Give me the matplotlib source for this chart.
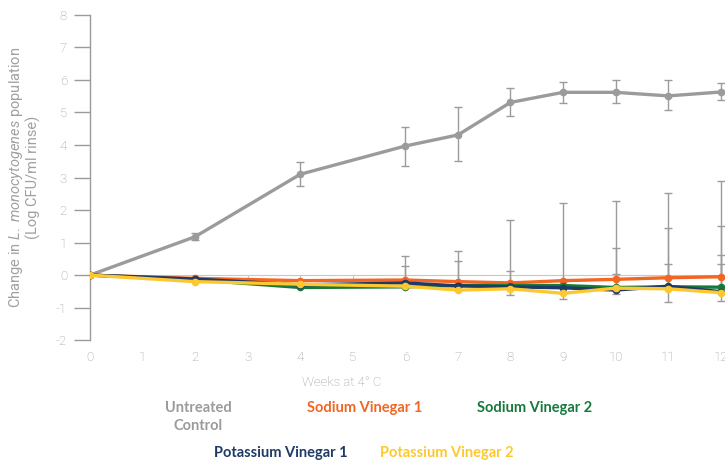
import numpy as np
import matplotlib.pyplot as plt

plt.rcParams['font.family'] = ['Roboto', 'DejaVu Sans']
plt.rcParams['axes.unicode_minus'] = False
plt.rcParams['mathtext.fontset'] = 'custom'
plt.rcParams['mathtext.it'] = 'Roboto:italic'
plt.rcParams['mathtext.rm'] = 'Roboto'

weeks = np.array([0, 2, 4, 6, 7, 8, 9, 10, 11, 12])

# mean change in log CFU per treatment
untreated = np.array([0, 1.18, 3.10, 3.97, 4.31, 5.31, 5.62, 5.62, 5.51, 5.63])
sodium1 = np.array([0, -0.10, -0.17, -0.15, -0.20, -0.24, -0.17, -0.13, -0.08, -0.05])
sodium2 = np.array([0, -0.14, -0.38, -0.36, -0.32, -0.32, -0.32, -0.38, -0.36, -0.37])
potassium1 = np.array([0, -0.12, -0.30, -0.24, -0.33, -0.36, -0.39, -0.46, -0.34, -0.51])
potassium2 = np.array([0, -0.20, -0.28, -0.34, -0.46, -0.42, -0.56, -0.40, -0.42, -0.54])

# error bar extents (below, above)
untreated_lo = np.array([0, 0.10, 0.36, 0.62, 0.81, 0.43, 0.34, 0.34, 0.44, 0.25])
untreated_hi = np.array([0, 0.10, 0.38, 0.57, 0.85, 0.45, 0.33, 0.37, 0.48, 0.27])
sodium1_hi = np.array([0, 0, 0, 0.75, 0.93, 1.95, 2.39, 2.42, 2.61, 2.95])
sodium2_hi = np.array([0, 0, 0, 0.63, 0.74, 0.46, 0, 1.20, 1.82, 1.89])
potassium1_hi = np.array([0, 0, 0, 0, 0, 0, 0, 0.48, 0.69, 1.13])
potassium2_hi = np.array([0, 0, 0, 0, 0, 0, 0, 0, 0, 0.87])
potassium2_lo = np.array([0, 0, 0, 0, 0, 0.20, 0.18, 0.18, 0.42, 0.25])

labels = ['Untreated\nControl', 'Sodium Vinegar 1', 'Sodium Vinegar 2',
          'Potassium Vinegar 1', 'Potassium Vinegar 2']
colors = ['#9b9b9d', '#f26522', '#17793b', '#1e3a66', '#fdc82f']

grey = '#9b9b9b'
txt = '#a0a0a0'
fig = plt.figure(figsize=(7.25, 4.66), dpi=100)
ax = fig.add_axes([0.124, 0.270, 0.876, 0.698])

ekw = dict(fmt='none', ecolor=grey, elinewidth=1.0, capsize=3, capthick=1.0, zorder=2)
ax.errorbar(weeks[1:], untreated[1:], yerr=[untreated_lo[1:], untreated_hi[1:]], **ekw)
for vals, hi in [(sodium1, sodium1_hi), (sodium2, sodium2_hi),
                 (potassium1, potassium1_hi), (potassium2, potassium2_hi)]:
    m = hi > 0
    ax.errorbar(weeks[m], vals[m], yerr=[np.zeros(m.sum()), hi[m]], **ekw)
m = potassium2_lo > 0
ax.errorbar(weeks[m], potassium2[m], yerr=[potassium2_lo[m], np.zeros(m.sum())], **ekw)

series = [untreated, sodium1, sodium2, potassium1, potassium2]
for i, (vals, c) in enumerate(zip(series, colors)):
    ax.plot(weeks, vals, '-o', color=c, lw=2.4, ms=4.5, zorder=3 + i)

ax.set_xlim(0, 12.08)
ax.set_ylim(-2, 8)
for s in ['top', 'right', 'bottom']:
    ax.spines[s].set_visible(False)
ax.spines['left'].set_color(grey)
ax.spines['left'].set_linewidth(1.0)

ax.set_yticks(range(-2, 9))
ax.tick_params(axis='y', direction='out', length=11.5, width=1.0, color=grey,
               labelcolor='#999999', labelsize=9.5, pad=5)
ax.set_xticks(range(0, 13))
ax.tick_params(axis='x', length=0, labelcolor='#999999', labelsize=9.5, pad=8)
for t in ax.get_xticklabels() + ax.get_yticklabels():
    t.set_fontweight('light')

# zero line with small ticks
zx = ax.secondary_xaxis(0.2)
zx.set_xticks(range(0, 13))
zx.tick_params(direction='out', length=3, width=0.8, color='#c8c8c8', labelbottom=False)
zx.spines['bottom'].set_color('#c8c8c8')
zx.spines['bottom'].set_linewidth(0.8)

ax.set_ylabel('Change in $\\it{L.}$ $\\it{monocytogenes}$ population\n(Log CFU/ml rinse)',
              color=txt, fontsize=10.5, linespacing=1.1, va='center')
ax.yaxis.set_label_coords(-0.104, 0.5)
fig.text(342 / 725, 1 - 383 / 466, 'Weeks at 4° C', color='#999999',
         fontsize=9.5, fontweight='light', ha='center', va='center')

# legend as coloured labels
pos = [(198, 417), (365, 408), (535, 408), (281, 453), (447, 453)]
for (px, py), lab, c in zip(pos, labels, colors):
    fig.text(px / 725, 1 - py / 466, lab, color=c, fontsize=10.5,
             fontweight='bold', family=['Lato', 'DejaVu Sans'],
             ha='center', va='center', linespacing=1.45)

fig.savefig('out.png', dpi=100)
